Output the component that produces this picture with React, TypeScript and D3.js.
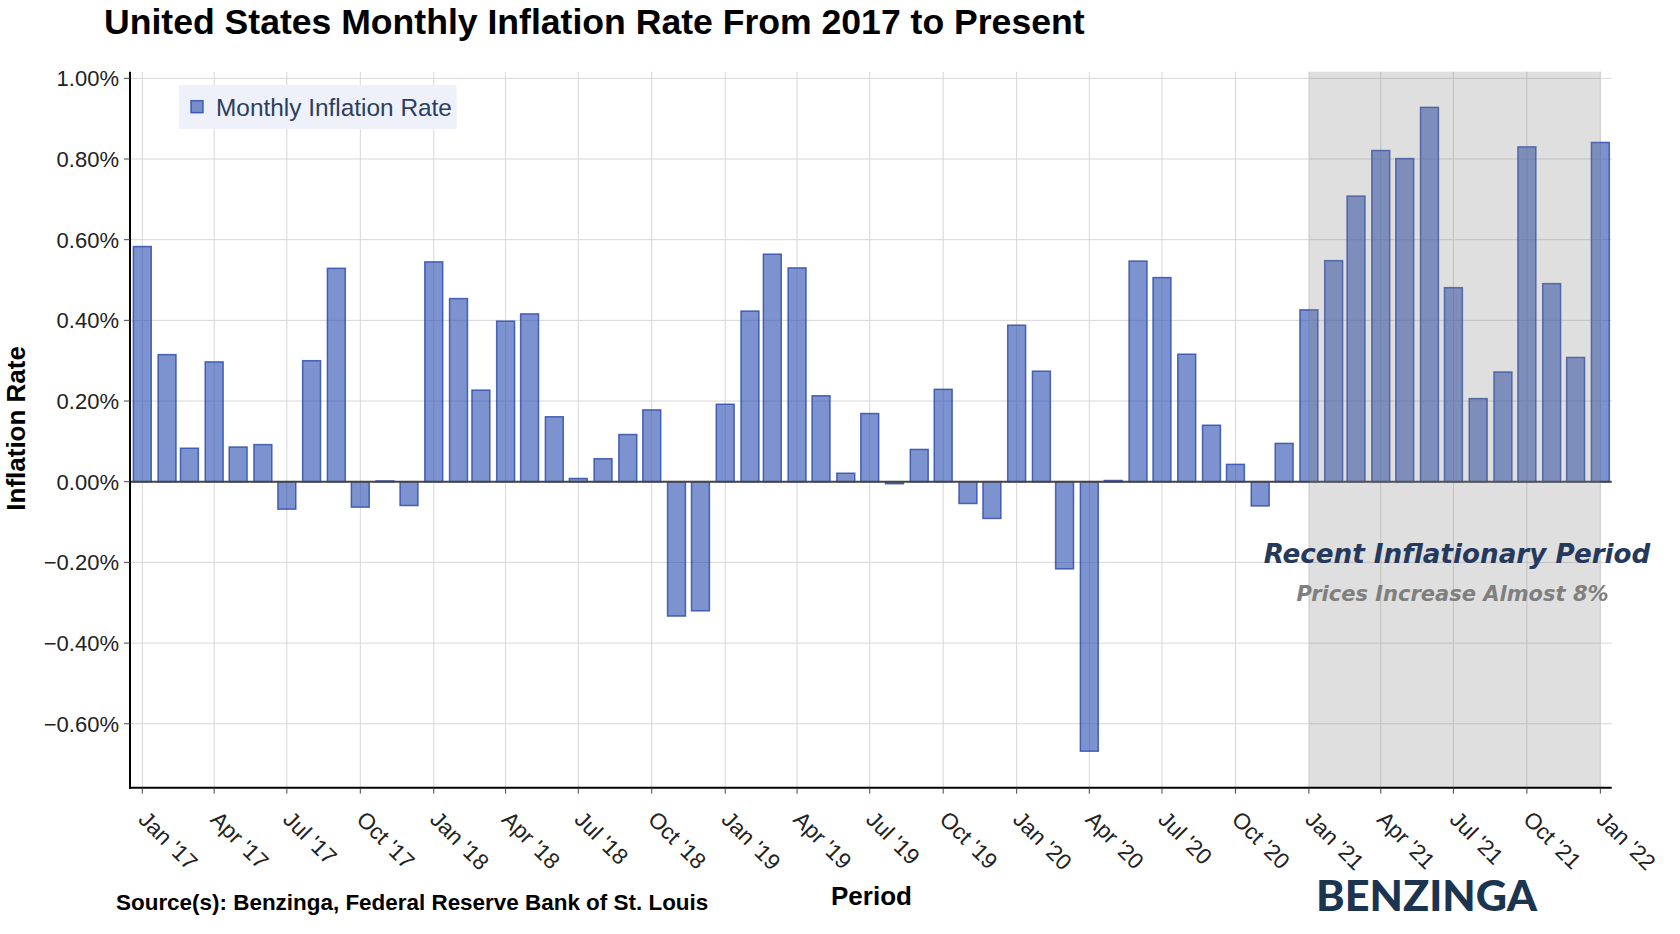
import React from "react";
import * as d3 from "d3";

// ---- data ----
const startMonth = Date.UTC(2017, 0, 1);
const endMonth = Date.UTC(2022, 1, 1);
const rates2017 = [0.583, 0.315, 0.083, 0.297, 0.086, 0.092, -0.068, 0.3, 0.529, -0.063, 0.002, -0.059];
const rates2018 = [0.545, 0.454, 0.227, 0.398, 0.416, 0.161, 0.008, 0.057, 0.117, 0.178, -0.333, -0.32];
const rates2019 = [0.192, 0.423, 0.564, 0.53, 0.213, 0.021, 0.169, -0.005, 0.08, 0.229, -0.054, -0.091];
const rates2020 = [0.388, 0.274, -0.216, -0.668, 0.003, 0.547, 0.506, 0.316, 0.14, 0.043, -0.06, 0.095];
const rates2021 = [0.426, 0.548, 0.708, 0.821, 0.801, 0.928, 0.481, 0.206, 0.272, 0.83, 0.491, 0.308];
const rates2022 = [0.841];
const monthlyRates = [...rates2017, ...rates2018, ...rates2019, ...rates2020, ...rates2021, ...rates2022];

const xTickLabels = [
  "Jan '17", "Apr '17", "Jul '17", "Oct '17",
  "Jan '18", "Apr '18", "Jul '18", "Oct '18",
  "Jan '19", "Apr '19", "Jul '19", "Oct '19",
  "Jan '20", "Apr '20", "Jul '20", "Oct '20",
  "Jan '21", "Apr '21", "Jul '21", "Oct '21",
  "Jan '22",
];
const yTickValues = [-0.6, -0.4, -0.2, 0, 0.2, 0.4, 0.6, 0.8, 1.0];
const shadeStart = Date.UTC(2021, 0, 1);
const shadeEnd = Date.UTC(2022, 0, 1);

const W = 1680;
const H = 934;
const plotLeft = 130;
const plotRight = 1611.7;
const plotTop = 71.7;
const plotBottom = 787.7;

const DAY = 86400000;

export default function App() {
  const months = d3.utcMonth.range(new Date(startMonth), new Date(endMonth));
  const data = months.map((d, i) => ({ date: d, value: monthlyRates[i] }));
  const tickDates = d3.utcMonth.range(new Date(startMonth), new Date(endMonth), 3);

  const x = d3
    .scaleUtc()
    .domain([new Date(Date.UTC(2016, 11, 16, 14)), new Date(Date.UTC(2022, 0, 15, 5))])
    .range([plotLeft, plotRight]);
  const y = d3.scaleLinear().domain([-0.7585, 1.0164]).range([plotBottom, plotTop]);

  const barDays = 22.4;
  const fmt = (v: number) => {
    const s = d3.format(".2f")(Math.abs(v)) + "%";
    return v < -1e-9 ? "\u2212" + s : s;
  };

  const barFill = "rgb(52,86,180)";
  const barStroke = "rgb(40,70,170)";

  return (
    <svg
      width={W}
      height={H}
      style={{ position: "absolute", left: 0, top: 0, background: "#fff" }}
      fontFamily="'Liberation Sans', Arial, sans-serif"
    >
      <rect x={0} y={0} width={W} height={H} fill="#fff" />
      {/* title */}
      <text x={104} y={34.3} fontSize={35.6} fontWeight="bold" fill="#000">
        United States Monthly Inflation Rate From 2017 to Present
      </text>

      {/* grid */}
      {yTickValues.map((v) => (
        <line key={"gy" + v} x1={plotLeft} x2={plotRight} y1={y(v)} y2={y(v)} stroke="#d6d6d6" strokeWidth={1} />
      ))}
      {tickDates.map((d, i) => (
        <line key={"gx" + i} x1={x(d)} x2={x(d)} y1={plotTop} y2={plotBottom} stroke="#d6d6d6" strokeWidth={1} />
      ))}

      {/* bars */}
      {data.map((d, i) => {
        const x0 = x(new Date(d.date.getTime() - (barDays / 2) * DAY));
        const x1 = x(new Date(d.date.getTime() + (barDays / 2) * DAY));
        const yv = y(d.value);
        const y0 = y(0);
        return (
          <rect
            key={"b" + i}
            x={x0}
            width={x1 - x0}
            y={Math.min(yv, y0)}
            height={Math.max(Math.abs(y0 - yv), 0.5)}
            fill={barFill}
            fillOpacity={0.64}
            stroke={barStroke}
            strokeOpacity={0.8}
            strokeWidth={1.5}
          />
        );
      })}

      {/* zero line */}
      <line x1={plotLeft} x2={plotRight} y1={y(0)} y2={y(0)} stroke="#444" strokeWidth={2} />

      {/* shaded region */}
      <rect
        x={x(new Date(shadeStart))}
        width={x(new Date(shadeEnd)) - x(new Date(shadeStart))}
        y={plotTop}
        height={plotBottom - plotTop}
        fill="rgba(128,128,128,0.25)"
      />

      {/* axes */}
      <line x1={plotLeft} x2={plotLeft} y1={plotTop} y2={plotBottom + 1} stroke="#000" strokeWidth={2} />
      <line x1={plotLeft - 1} x2={plotRight} y1={plotBottom} y2={plotBottom} stroke="#000" strokeWidth={2} />

      {/* y ticks */}
      {yTickValues.map((v) => (
        <g key={"yt" + v}>
          <line x1={plotLeft - 6} x2={plotLeft} y1={y(v)} y2={y(v)} stroke="#444" strokeWidth={1} />
          <text x={119} y={y(v)} dy="0.36em" textAnchor="end" fontSize={22} fill="#222">
            {fmt(v)}
          </text>
        </g>
      ))}

      {/* x ticks */}
      {tickDates.map((d, i) => (
        <g key={"xt" + i}>
          <line x1={x(d)} x2={x(d)} y1={plotBottom} y2={plotBottom + 6} stroke="#444" strokeWidth={1} />
          <text
            transform={`translate(${x(d) - 5},${plotBottom + 33}) rotate(45)`}
            fontSize={22.5}
            fill="#222"
          >
            {xTickLabels[i]}
          </text>
        </g>
      ))}

      {/* axis titles */}
      <text
        transform={`translate(25,428.4) rotate(-90)`}
        textAnchor="middle"
        fontSize={26}
        fontWeight="bold"
        fill="#000"
      >
        Inflation Rate
      </text>
      <text x={871.5} y={905} textAnchor="middle" fontSize={26} fontWeight="bold" fill="#000">
        Period
      </text>

      {/* legend */}
      <rect x={179} y={85} width={277.7} height={44} fill="rgb(238,241,250)" />
      <rect
        x={191}
        y={100.7}
        width={12}
        height={12}
        fill={barFill}
        fillOpacity={0.64}
        stroke={barStroke}
        strokeOpacity={0.8}
        strokeWidth={1.5}
      />
      <text x={216} y={115.7} fontSize={24.4} fill="#2a3f5f">
        Monthly Inflation Rate
      </text>

      {/* annotations */}
      <text
        x={1457}
        y={563.3}
        textAnchor="middle"
        fontFamily="'DejaVu Sans', Verdana, sans-serif"
        fontSize={26.2}
        fontWeight="bold"
        fontStyle="italic"
        fill="#25395c"
      >
        Recent Inflationary Period
      </text>
      <text
        x={1452.5}
        y={601}
        textAnchor="middle"
        fontFamily="'DejaVu Sans', Verdana, sans-serif"
        fontSize={21}
        fontWeight="bold"
        fontStyle="italic"
        fill="#7f7f7f"
      >
        Prices Increase Almost 8%
      </text>

      {/* source */}
      <text x={116} y={910} fontSize={22.45} fontWeight="bold" fill="#000">
        Source(s): Benzinga, Federal Reserve Bank of St. Louis
      </text>

      {/* logo */}
      <text
        x={1316}
        y={910.7}
        fontFamily="Lato, 'Open Sans', sans-serif"
        fontSize={42}
        fontWeight={900}
        fill="#1b3551"
        textLength={221}
        lengthAdjust="spacingAndGlyphs"
      >
        BENZINGA
      </text>
    </svg>
  );
}
